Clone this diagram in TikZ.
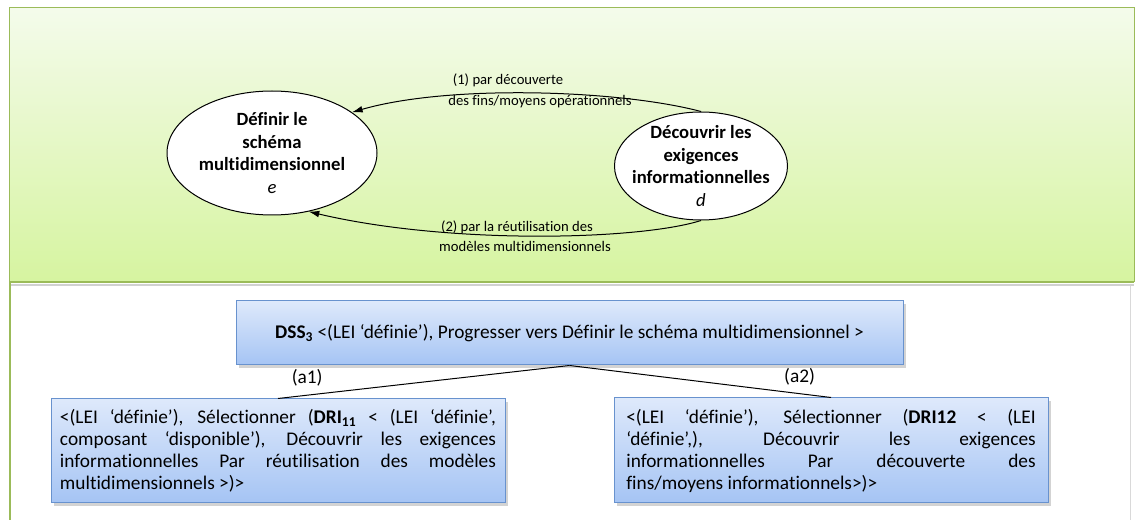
\documentclass[tikz,border=0pt]{standalone}
\usepackage{fontspec}
\setmainfont{Carlito}[Ligatures=CommonOff]
\usetikzlibrary{shapes.geometric,arrows.meta,shadows}

\definecolor{panelTop}{RGB}{244,251,235}
\definecolor{panelBot}{RGB}{214,244,160}
\definecolor{panelBorder}{RGB}{155,187,89}
\definecolor{boxTop}{RGB}{222,233,251}
\definecolor{boxBot}{RGB}{165,196,244}
\definecolor{boxBorder}{RGB}{104,146,206}

\newcommand{\boxfont}{\fontsize{14.5}{16.5}\selectfont\hyphenpenalty=10000\exhyphenpenalty=10000}

\tikzset{every picture/.style={line width=0.75pt}}
\tikzset{
  etat/.style={ellipse, draw, fill=white, align=center, inner xsep=-9pt, inner ysep=-6pt,
    font=\fontsize{14}{17}\selectfont\bfseries},
  sdss/.style={draw=boxBorder, top color=boxTop, bottom color=boxBot,
    drop shadow={shadow xshift=2pt, shadow yshift=-2pt, opacity=0.35},
    font=\boxfont},
  lbl/.style={font=\fontsize{11}{12}\selectfont, inner sep=0pt},
  fleche/.style={-{Latex[length=8pt, width=5pt]}}
}

\begin{document}
\begin{tikzpicture}[x=0.75pt,y=0.75pt,yscale=-1]
\useasboundingbox (0,0) rectangle (1140,520);

%Straight Lines: bottom frame
\draw [line width=2.2pt, draw=panelBorder] (10,282) -- (10,520);
\draw [line width=0.75pt, draw=black!15] (1130,285) -- (1130,520);
%Shape: Rectangle, top panel
\shade [top color=panelTop, bottom color=panelBot] (9,8) rectangle (1134,282);
\draw [draw=panelBorder] (9,8) rectangle (1134,282);
\draw [line width=2pt, draw=black!18] (11,285) -- (1134,285);
\draw [line width=1.5pt, draw=panelBorder] (9,282) -- (1134,282);

%Shape: Ellipse
\node [etat, minimum width=157.5pt, minimum height=93pt] (e) at (272,153)
  {Définir le\\schéma\\multidimensionnel\\{\mdseries\itshape e}};
%Shape: Ellipse
\node [etat, minimum width=129.75pt, minimum height=81pt] (d) at (701,166)
  {Découvrir les\\exigences\\informationnelles\\{\mdseries\itshape d}};

%Curve Lines
\draw [fleche] (d.north) .. controls (620,90) and (450,84) .. (e.27);
%Curve Lines
\draw [fleche] (d.south) .. controls (640,240) and (450,245) .. (e.-58);

% Text Node
\node [lbl] (l1a) at (508,80) {(1) par découverte};
% Text Node
\node [lbl] (l1b) at (540,102) {des fins/moyens opérationnels};
% Text Node
\node [lbl] (l2a) at (517,227) {(2) par la réutilisation des};
% Text Node
\node [lbl] (l2b) at (525,246) {modèles multidimensionnels};

%Rounded Rect: DSS
\node [sdss, minimum width=500.25pt, minimum height=48pt] (dss) at (569.5,333)
  {\textbf{DSS\textsubscript{3}} <(LEI ‘définie’), Progresser vers Définir le schéma multidimensionnel >};
%Rect: DRI11
\node [sdss, minimum width=340.5pt, minimum height=78pt, text width=327pt, align=justify] (dri11) at (278,451)
  {<(LEI ‘définie’), Sélectionner (\textbf{DRI\textsubscript{11}} < (LEI ‘définie’,\linebreak
   composant ‘disponible’), Découvrir les exigences\linebreak
   informationnelles Par réutilisation des modèles\linebreak
   multidimensionnels >)>\par\vspace*{13pt}};
%Rect: DRI12
\node [sdss, minimum width=325.5pt, minimum height=78.75pt, text width=307pt, align=justify] (dri12) at (831,450.5)
  {<(LEI ‘définie’), Sélectionner (\textbf{DRI12} < (LEI\linebreak
   ‘définie’,), Découvrir les exigences\linebreak
   informationnelles Par découverte des\linebreak
   fins/moyens informationnels>)>\par\vspace*{13pt}};

%Straight Lines
\draw (dss.south) -- (dri11.north) node [pos=0.9, above=3pt, font=\boxfont] (a1) {(a1)};
%Straight Lines
\draw (dss.south) -- (dri12.north) node [pos=0.88, above=3pt, font=\boxfont] (a2) {(a2)};

\end{tikzpicture}
\end{document}
